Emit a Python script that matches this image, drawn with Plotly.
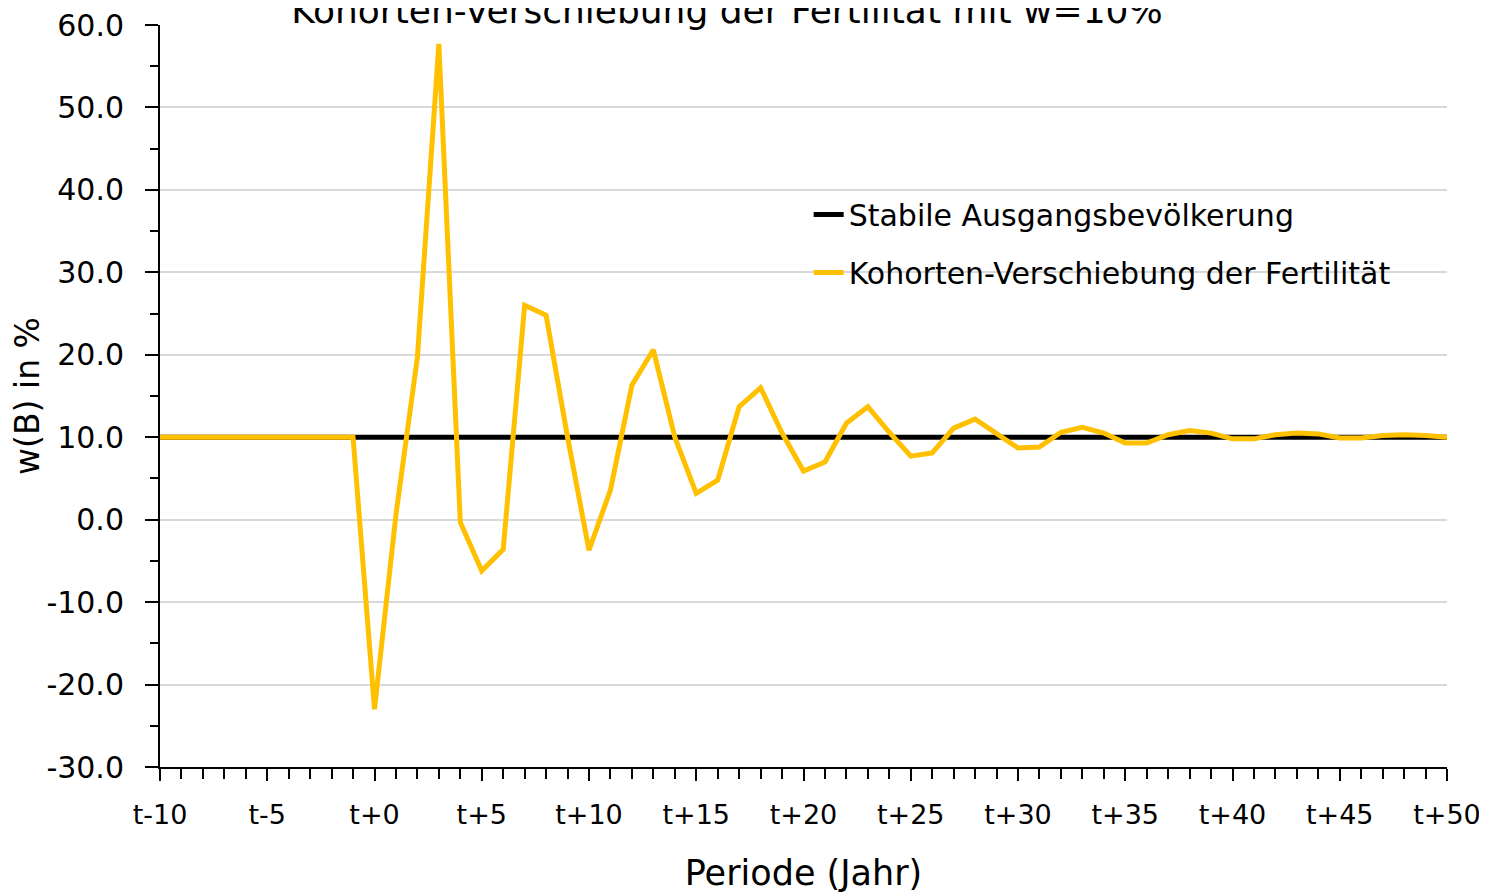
import plotly.graph_objects as go

# Periods relative to t (t-10 ... t+50)
periods = [-10, -9, -8, -7, -6, -5, -4, -3, -2, -1,
           0, 1, 2, 3, 4, 5, 6, 7, 8, 9,
           10, 11, 12, 13, 14, 15, 16, 17, 18, 19,
           20, 21, 22, 23, 24, 25, 26, 27, 28, 29,
           30, 31, 32, 33, 34, 35, 36, 37, 38, 39,
           40, 41, 42, 43, 44, 45, 46, 47, 48, 49, 50]

# Stable initial population: growth rate w(B) in %
stabil = [10.0, 10.0, 10.0, 10.0, 10.0, 10.0, 10.0, 10.0, 10.0, 10.0,
          10.0, 10.0, 10.0, 10.0, 10.0, 10.0, 10.0, 10.0, 10.0, 10.0,
          10.0, 10.0, 10.0, 10.0, 10.0, 10.0, 10.0, 10.0, 10.0, 10.0,
          10.0, 10.0, 10.0, 10.0, 10.0, 10.0, 10.0, 10.0, 10.0, 10.0,
          10.0, 10.0, 10.0, 10.0, 10.0, 10.0, 10.0, 10.0, 10.0, 10.0,
          10.0, 10.0, 10.0, 10.0, 10.0, 10.0, 10.0, 10.0, 10.0, 10.0, 10.0]

# Cohort shift of fertility: w(B) in %
kohorten = [10.0, 10.0, 10.0, 10.0, 10.0, 10.0, 10.0, 10.0, 10.0, 10.0,
            -23.0, 0.6, 19.7, 57.7, -0.3, -6.2, -3.6, 26.0, 24.8, 10.0,
            -3.7, 3.6, 16.3, 20.6, 10.0, 3.2, 4.8, 13.7, 16.0, 10.5,
            5.9, 7.0, 11.7, 13.7, 10.6, 7.7, 8.1, 11.1, 12.2, 10.4,
            8.7, 8.8, 10.6, 11.2, 10.5, 9.3, 9.3, 10.3, 10.8, 10.5,
            9.8, 9.8, 10.3, 10.5, 10.4, 9.9, 9.9, 10.2, 10.3, 10.2, 10.0]

x_tick_vals = [-10, -5, 0, 5, 10, 15, 20, 25, 30, 35, 40, 45, 50]
x_tick_text = ["t-10", "t-5", "t+0", "t+5", "t+10", "t+15", "t+20",
               "t+25", "t+30", "t+35", "t+40", "t+45", "t+50"]

y_tick_vals = [-30, -20, -10, 0, 10, 20, 30, 40, 50, 60]
y_tick_text = ["-30.0", "-20.0", "-10.0", "0.0", "10.0", "20.0",
               "30.0", "40.0", "50.0", "60.0"]

FONT = "DejaVu Sans"

fig = go.Figure()
fig.add_trace(go.Scatter(x=periods, y=stabil, mode="lines",
                         name="Stabile Ausgangsbevölkerung", legend="legend",
                         line=dict(color="black", width=5)))
fig.add_trace(go.Scatter(x=periods, y=kohorten, mode="lines",
                         name="Kohorten-Verschiebung der Fertilität", legend="legend2",
                         line=dict(color="#FFC000", width=5)))

# the page body adds an 8px offset, margins are set to compensate
fig.update_layout(
    width=1487, height=893,
    margin=dict(l=152, r=48, t=17, b=134),
    paper_bgcolor="white", plot_bgcolor="white",
    font=dict(family=FONT, size=27, color="black"),
    title=dict(text="Kohorten-Verschiebung der Fertilität mit w=10%",
               x=0.4835, xanchor="center", y=0.997, yanchor="middle",
               yref="container", font=dict(size=36)),
    showlegend=True,
    legend=dict(x=0.504, y=0.7446, xanchor="left", yanchor="middle",
                bgcolor="rgba(0,0,0,0)", font=dict(size=30)),
    legend2=dict(x=0.504, y=0.6666, xanchor="left", yanchor="middle",
                 bgcolor="rgba(0,0,0,0)", font=dict(size=30)),
)

fig.update_xaxes(
    range=[-10, 50], tickmode="array", tickvals=x_tick_vals, ticktext=x_tick_text,
    automargin=False, showgrid=False, zeroline=False,
    showline=True, linecolor="black", linewidth=2,
    ticks="outside", ticklen=12, tickwidth=1.5, tickcolor="black",
    minor=dict(dtick=1, ticks="outside", ticklen=10, tickwidth=1.5,
               tickcolor="black", showgrid=False),
    tickfont=dict(size=27), ticklabelstandoff=11, ticklabeloverflow="allow",
    title=dict(text="Periode (Jahr)", font=dict(size=35), standoff=31),
)

fig.update_yaxes(
    range=[-30, 60], tickmode="array", tickvals=y_tick_vals, ticktext=y_tick_text,
    automargin=False, showgrid=True, gridcolor="#d9d9d9", gridwidth=2, zeroline=False,
    showline=True, linecolor="black", linewidth=2,
    ticks="outside", ticklen=13, tickwidth=2, tickcolor="black",
    minor=dict(dtick=5, tick0=0, ticks="outside", ticklen=8, tickwidth=2,
               tickcolor="black", showgrid=False),
    tickfont=dict(size=30), ticklabelstandoff=15, ticklabeloverflow="allow",
    title=dict(text="w(B) in %", font=dict(size=33), standoff=0),
)

fig.write_html("out.html")
